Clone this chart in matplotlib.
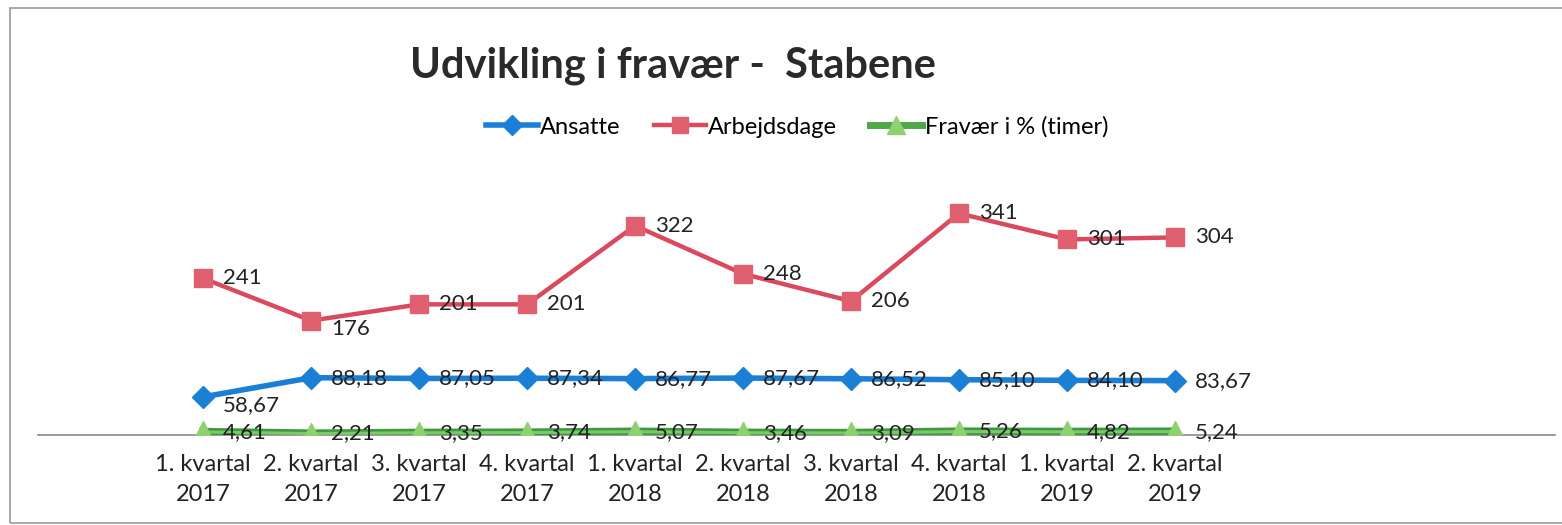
import matplotlib.pyplot as plt
from matplotlib.patches import Rectangle
from matplotlib.lines import Line2D

quarters = ["1. kvartal\n2017", "2. kvartal\n2017", "3. kvartal\n2017", "4. kvartal\n2017",
            "1. kvartal\n2018", "2. kvartal\n2018", "3. kvartal\n2018", "4. kvartal\n2018",
            "1. kvartal\n2019", "2. kvartal\n2019"]
ansatte = [58.67, 88.18, 87.05, 87.34, 86.77, 87.67, 86.52, 85.10, 84.10, 83.67]
arbejdsdage = [241, 176, 201, 201, 322, 248, 206, 341, 301, 304]
fravaer = [4.61, 2.21, 3.35, 3.74, 5.07, 3.46, 3.09, 5.26, 4.82, 5.24]

plt.rcParams["font.family"] = ["Lato", "DejaVu Sans"]

fig = plt.figure(figsize=(15.62, 5.25), dpi=100)
ax = fig.add_axes([38 / 1562, 90 / 525, 1517 / 1562, 245 / 525])

# outer chart frame (scanned border)
fig.patches.append(Rectangle((10 / 1562, 2 / 525), 1.0, 515 / 525, transform=fig.transFigure,
                             fill=False, edgecolor="#9a9a9a", linewidth=1.2))

x = list(range(len(quarters)))
blue, red = "#1c7fd6", "#d94a5f"

ax.plot(x, arbejdsdage, color=red, lw=3.2, marker="s", ms=13,
        mfc="#e0606f", mec="#e0606f", zorder=3)
ax.plot(x, ansatte, color=blue, lw=4, marker="D", ms=11,
        mfc=blue, mec=blue, zorder=3)
# green line: darker rim with lighter core, like the original
ax.plot(x, fravaer, color="#3f9a3f", lw=6, zorder=3)
ax.plot(x, fravaer, color="#7cc96a", lw=2.2, marker="^", ms=16,
        mfc="#8fd170", mec="#8fd170", zorder=3)


def fmt(v, dec):
    return f"{v:.{dec}f}".replace(".", ",")


label_kw = dict(fontsize=16, color="#222222", va="center", ha="left", zorder=4)
shift = {0: -8}
for i, v in enumerate(ansatte):
    ax.annotate(fmt(v, 2), (i, v), xytext=(20, shift.get(i, 0)),
                textcoords="offset pixels", **label_kw)
shift = {1: -8}
for i, v in enumerate(arbejdsdage):
    ax.annotate(str(v), (i, v), xytext=(20, shift.get(i, 0)),
                textcoords="offset pixels", **label_kw)
for i, v in enumerate(fravaer):
    ax.annotate(fmt(v, 2), (i, v), xytext=(20, 0),
                textcoords="offset pixels", **label_kw)

ax.set_xlim(-1.53, 12.52)
ax.set_ylim(0, 377)
ax.set_xticks(x)
ax.set_xticklabels(quarters, fontsize=17, color="#222222", linespacing=1.5)
ax.tick_params(axis="x", length=0, pad=14)
ax.set_yticks([])
for side in ["top", "right", "left"]:
    ax.spines[side].set_visible(False)
ax.spines["bottom"].set_color("#8a8a8a")
ax.spines["bottom"].set_linewidth(1.2)
ax.patch.set_alpha(0)

fig.text(673 / 1562, 1 - 66 / 525, "Udvikling i fravær -  Stabene", fontsize=30,
         fontweight="bold", color="#2a2a2a", ha="center", va="center")

handles = [
    Line2D([], [], color=blue, lw=4, marker="D", ms=10, mfc=blue, mec=blue),
    Line2D([], [], color=red, lw=3.2, marker="s", ms=12, mfc="#e0606f", mec="#e0606f"),
    Line2D([], [], color="#4ea84a", lw=5, marker="^", ms=13, mfc="#8fd170", mec="#8fd170"),
]
fig.legend(handles, ["Ansatte", "Arbejdsdage", "Fravær i % (timer)"],
           loc="center", bbox_to_anchor=(797 / 1562, 1 - 127 / 525), ncol=3,
           frameon=False, fontsize=17, handlelength=2.2, handletextpad=0.1,
           columnspacing=1.4)

fig.savefig("out.png", dpi=100)
